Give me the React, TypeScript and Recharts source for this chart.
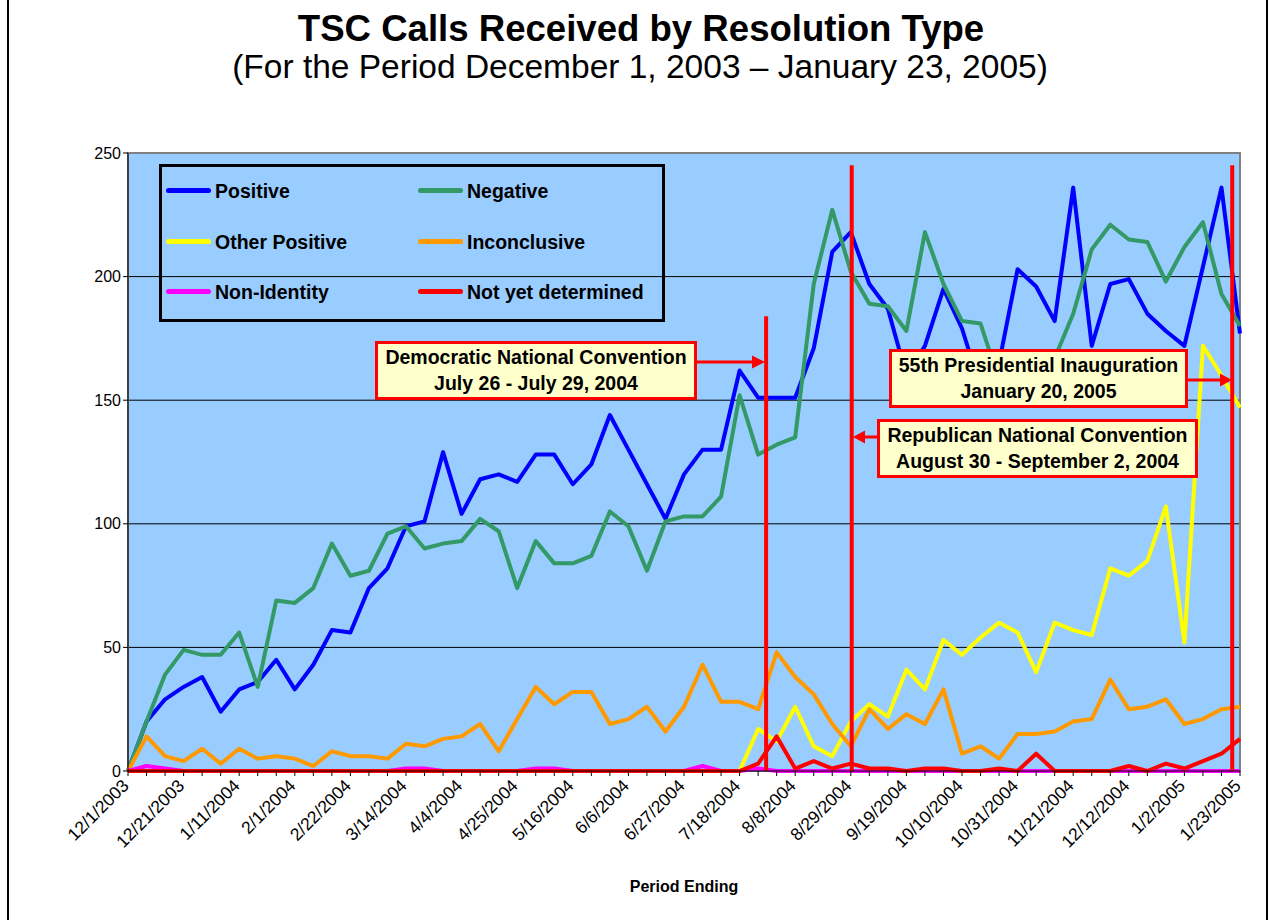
import React from "react";
import { LineChart, Line, XAxis, YAxis, CartesianGrid, ReferenceLine, ReferenceArea } from "recharts";

/* ── data ─────────────────────────────────────────────────────── */
const weeks = [
  "12/1/2003", "12/7/2003", "12/14/2003", "12/21/2003", "12/28/2003", "1/4/2004", "1/11/2004", "1/18/2004",
  "1/25/2004", "2/1/2004", "2/8/2004", "2/15/2004", "2/22/2004", "2/29/2004", "3/7/2004", "3/14/2004",
  "3/21/2004", "3/28/2004", "4/4/2004", "4/11/2004", "4/18/2004", "4/25/2004", "5/2/2004", "5/9/2004",
  "5/16/2004", "5/23/2004", "5/30/2004", "6/6/2004", "6/13/2004", "6/20/2004", "6/27/2004", "7/4/2004",
  "7/11/2004", "7/18/2004", "7/25/2004", "8/1/2004", "8/8/2004", "8/15/2004", "8/22/2004", "8/29/2004",
  "9/5/2004", "9/12/2004", "9/19/2004", "9/26/2004", "10/3/2004", "10/10/2004", "10/17/2004", "10/24/2004",
  "10/31/2004", "11/7/2004", "11/14/2004", "11/21/2004", "11/28/2004", "12/5/2004", "12/12/2004", "12/19/2004",
  "12/26/2004", "1/2/2005", "1/9/2005", "1/16/2005", "1/23/2005",
];

const positive = [
  0, 20, 29, 34, 38, 24, 33, 36, 45, 33, 43, 57, 56, 74, 82, 99, 101, 129, 104, 118, 120,
  117, 128, 128, 116, 124, 144, 130, 116, 102, 120, 130, 130, 162, 151, 151, 151, 171, 210, 218, 197,
  187, 160, 172, 195, 179, 155, 165, 203, 196, 182, 236, 172, 197, 199, 185, 178, 172, 204, 236, 177,
];
const negative = [
  0, 20, 39, 49, 47, 47, 56, 34, 69, 68, 74, 92, 79, 81, 96, 99, 90, 92, 93, 102, 97,
  74, 93, 84, 84, 87, 105, 99, 81, 101, 103, 103, 111, 152, 128, 132, 135, 197, 227, 202, 189,
  188, 178, 218, 197, 182, 181, 158, 160, 163, 167, 185, 211, 221, 215, 214, 198, 212, 222, 193, 180,
];
const otherPositive = [
  0, 0, 0, 0, 0, 0, 0, 0, 0, 0, 0, 0, 0, 0, 0, 0, 0, 0, 0, 0, 0,
  0, 0, 0, 0, 0, 0, 0, 0, 0, 0, 0, 0, 0, 17, 12, 26, 10, 6, 20, 27,
  22, 41, 33, 53, 47, 54, 60, 56, 40, 60, 57, 55, 82, 79, 85, 107, 52, 172, 160, 147,
];
const inconclusive = [
  0, 14, 6, 4, 9, 3, 9, 5, 6, 5, 2, 8, 6, 6, 5, 11, 10, 13, 14, 19, 8,
  21, 34, 27, 32, 32, 19, 21, 26, 16, 26, 43, 28, 28, 25, 48, 38, 31, 19, 10, 25,
  17, 23, 19, 33, 7, 10, 5, 15, 15, 16, 20, 21, 37, 25, 26, 29, 19, 21, 25, 26,
];
const nonIdentity = [
  0, 2, 1, 0, 0, 0, 0, 0, 0, 0, 0, 0, 0, 0, 0, 1, 1, 0, 0, 0, 0,
  0, 1, 1, 0, 0, 0, 0, 0, 0, 0, 2, 0, 0, 1, 0, 0, 0, 0, 0, 0,
  0, 0, 0, 0, 0, 0, 0, 0, 0, 0, 0, 0, 0, 0, 0, 0, 0, 0, 0, 0,
];
const notYetDetermined = [
  0, 0, 0, 0, 0, 0, 0, 0, 0, 0, 0, 0, 0, 0, 0, 0, 0, 0, 0, 0, 0,
  0, 0, 0, 0, 0, 0, 0, 0, 0, 0, 0, 0, 0, 3, 14, 1, 4, 1, 3, 1,
  1, 0, 1, 1, 0, 0, 1, 0, 7, 0, 0, 0, 0, 2, 0, 3, 1, 4, 7, 13,
];

const yTicks = [0, 50, 100, 150, 200, 250];

const series = [
  { key: "positive", name: "Positive", color: "#0000FF", values: positive },
  { key: "negative", name: "Negative", color: "#339966", values: negative },
  { key: "otherPositive", name: "Other Positive", color: "#FFFF00", values: otherPositive },
  { key: "inconclusive", name: "Inconclusive", color: "#FF9900", values: inconclusive },
  { key: "nonIdentity", name: "Non-Identity", color: "#FF00FF", values: nonIdentity },
  { key: "notYetDetermined", name: "Not yet determined", color: "#FF0000", values: notYetDetermined },
];

// event markers: position on the week index axis, height of the red line
const events = [
  { title: "Democratic National Convention", dates: "July 26 - July 29, 2004", at: 34.43, top: 184 },
  { title: "Republican National Convention", dates: "August 30 - September 2, 2004", at: 39.05, top: 245 },
  { title: "55th Presidential Inauguration", dates: "January 20, 2005", at: 59.58, top: 245 },
];

const data = weeks.map((week, i) => {
  const row: Record<string, number | string> = { idx: i, week };
  series.forEach((s) => (row[s.key] = s.values[i]));
  return row;
});
const allTicks = weeks.map((_w, i) => i);

const FONT = "'Liberation Sans', Arial, sans-serif";

/* ── pieces ───────────────────────────────────────────────────── */
function WeekTick({ x, y, payload }: any) {
  const i = payload.value;
  if (i % 3 !== 0) return <g />;
  return (
    <g transform={`translate(${x - 5},${y + 2})`}>
      <text x={0} y={0} dy="0.55em" textAnchor="end" transform="rotate(-45)" fontSize={17.5} fontFamily={FONT} fill="#000">
        {weeks[i]}
      </text>
    </g>
  );
}

const boxes = [
  { left: 375, top: 341, width: 322 },
  { left: 877, top: 419, width: 321 },
  { left: 889, top: 349, width: 299 },
];

function Callout({ ev, box }: { ev: (typeof events)[number]; box: (typeof boxes)[number] }) {
  return (
    <div
      style={{
        position: "absolute",
        left: box.left,
        top: box.top,
        width: box.width,
        height: 59,
        boxSizing: "border-box",
        border: "3px solid #FF0000",
        background: "#FFFFCC",
        fontFamily: FONT,
        fontWeight: "bold",
        fontSize: 19.5,
        lineHeight: "26px",
        textAlign: "center",
        color: "#000",
        whiteSpace: "nowrap",
      }}
    >
      <div>{ev.title}</div>
      <div>{ev.dates}</div>
    </div>
  );
}

function LegendBox() {
  return (
    <div
      style={{
        position: "absolute",
        left: 159,
        top: 164,
        width: 506,
        height: 158,
        boxSizing: "border-box",
        border: "3px solid #000",
        fontFamily: FONT,
        fontWeight: "bold",
        fontSize: 19.5,
      }}
    >
      {series.map((s, k) => {
        const row = Math.floor(k / 2);
        const col = k % 2;
        const cy = [22, 73, 123][row];
        const lx = col === 0 ? 4 : 256;
        return (
          <div key={s.key} style={{ position: "absolute", left: lx, top: cy - 13, height: 26, lineHeight: "26px", whiteSpace: "nowrap" }}>
            <span style={{ display: "inline-block", width: 45, height: 5, borderRadius: 3, background: s.color, verticalAlign: "middle", marginRight: 4 }} />
            <span style={{ verticalAlign: "middle" }}>{s.name}</span>
          </div>
        );
      })}
    </div>
  );
}

/* ── chart ────────────────────────────────────────────────────── */
export default function App() {
  return (
    <div style={{ position: "absolute", left: 0, top: 0, width: 1270, height: 920, background: "#fff", overflow: "hidden" }}>
      <div style={{ position: "absolute", left: 7, top: 0, width: 2, height: 920, background: "#000" }} />
      <div style={{ position: "absolute", left: 1266, top: 0, width: 2, height: 920, background: "#000" }} />

      <div style={{ position: "absolute", left: 0, width: 1282, top: 11, textAlign: "center", fontFamily: FONT, fontWeight: "bold", fontSize: 36.6, lineHeight: "36px" }}>
        TSC Calls Received by Resolution Type
      </div>
      <div style={{ position: "absolute", left: 0, width: 1280, top: 50, textAlign: "center", fontFamily: FONT, fontSize: 33.5, lineHeight: "33px" }}>
        (For the Period December 1, 2003 – January 23, 2005)
      </div>

      <div style={{ position: "absolute", left: 0, top: 0 }}>
        <LineChart width={1270} height={920} data={data} margin={{ top: 153, right: 30, bottom: 0, left: 0 }}>
          <CartesianGrid vertical={false} stroke="#000" fill="#99CCFF" />
          <ReferenceArea x1={0} x2={60} y1={0} y2={250} fill="none" stroke="#808080" strokeWidth={2} />
          <XAxis
            type="number"
            dataKey="idx"
            domain={[0, 60]}
            ticks={allTicks}
            interval={0}
            height={149}
            tickSize={5}
            stroke="#000"
            tick={<WeekTick />}
            label={{ value: "Period Ending", position: "insideBottom", offset: 28, fill: "#000", fontSize: 16, fontWeight: "bold", fontFamily: FONT }}
          />
          <YAxis
            type="number"
            domain={[0, 250]}
            ticks={yTicks}
            width={128}
            tickSize={5}
            stroke="#000"
            tick={{ fill: "#000", fontSize: 16, fontFamily: FONT }}
          />
          {series.map((s) => (
            <Line
              key={s.key}
              type="linear"
              dataKey={s.key}
              name={s.name}
              stroke={s.color}
              strokeWidth={4}
              strokeLinejoin="round"
              dot={false}
              activeDot={false}
              isAnimationActive={false}
            />
          ))}
          {events.map((e) => (
            <ReferenceLine
              key={e.title}
              segment={[{ x: e.at, y: 0 }, { x: e.at, y: e.top }]}
              stroke="#FF0000"
              strokeWidth={4}
            />
          ))}
        </LineChart>
      </div>

      <LegendBox />

      <svg width={1270} height={920} style={{ position: "absolute", left: 0, top: 0, pointerEvents: "none" }}>
        <g stroke="#FF0000" strokeWidth={3} fill="#FF0000">
          <line x1={697} y1={362} x2={753} y2={362} />
          <polygon points="765,362 752,355.5 752,368.5" stroke="none" />
          <line x1={1188} y1={380} x2={1221} y2={380} />
          <polygon points="1232,380 1220,373.5 1220,386.5" stroke="none" />
          <line x1={877} y1={437} x2={864} y2={437} />
          <polygon points="853,437 865,430.5 865,443.5" stroke="none" />
        </g>
      </svg>

      {events.map((e, k) => (
        <Callout key={e.title} ev={e} box={boxes[k]} />
      ))}
    </div>
  );
}
